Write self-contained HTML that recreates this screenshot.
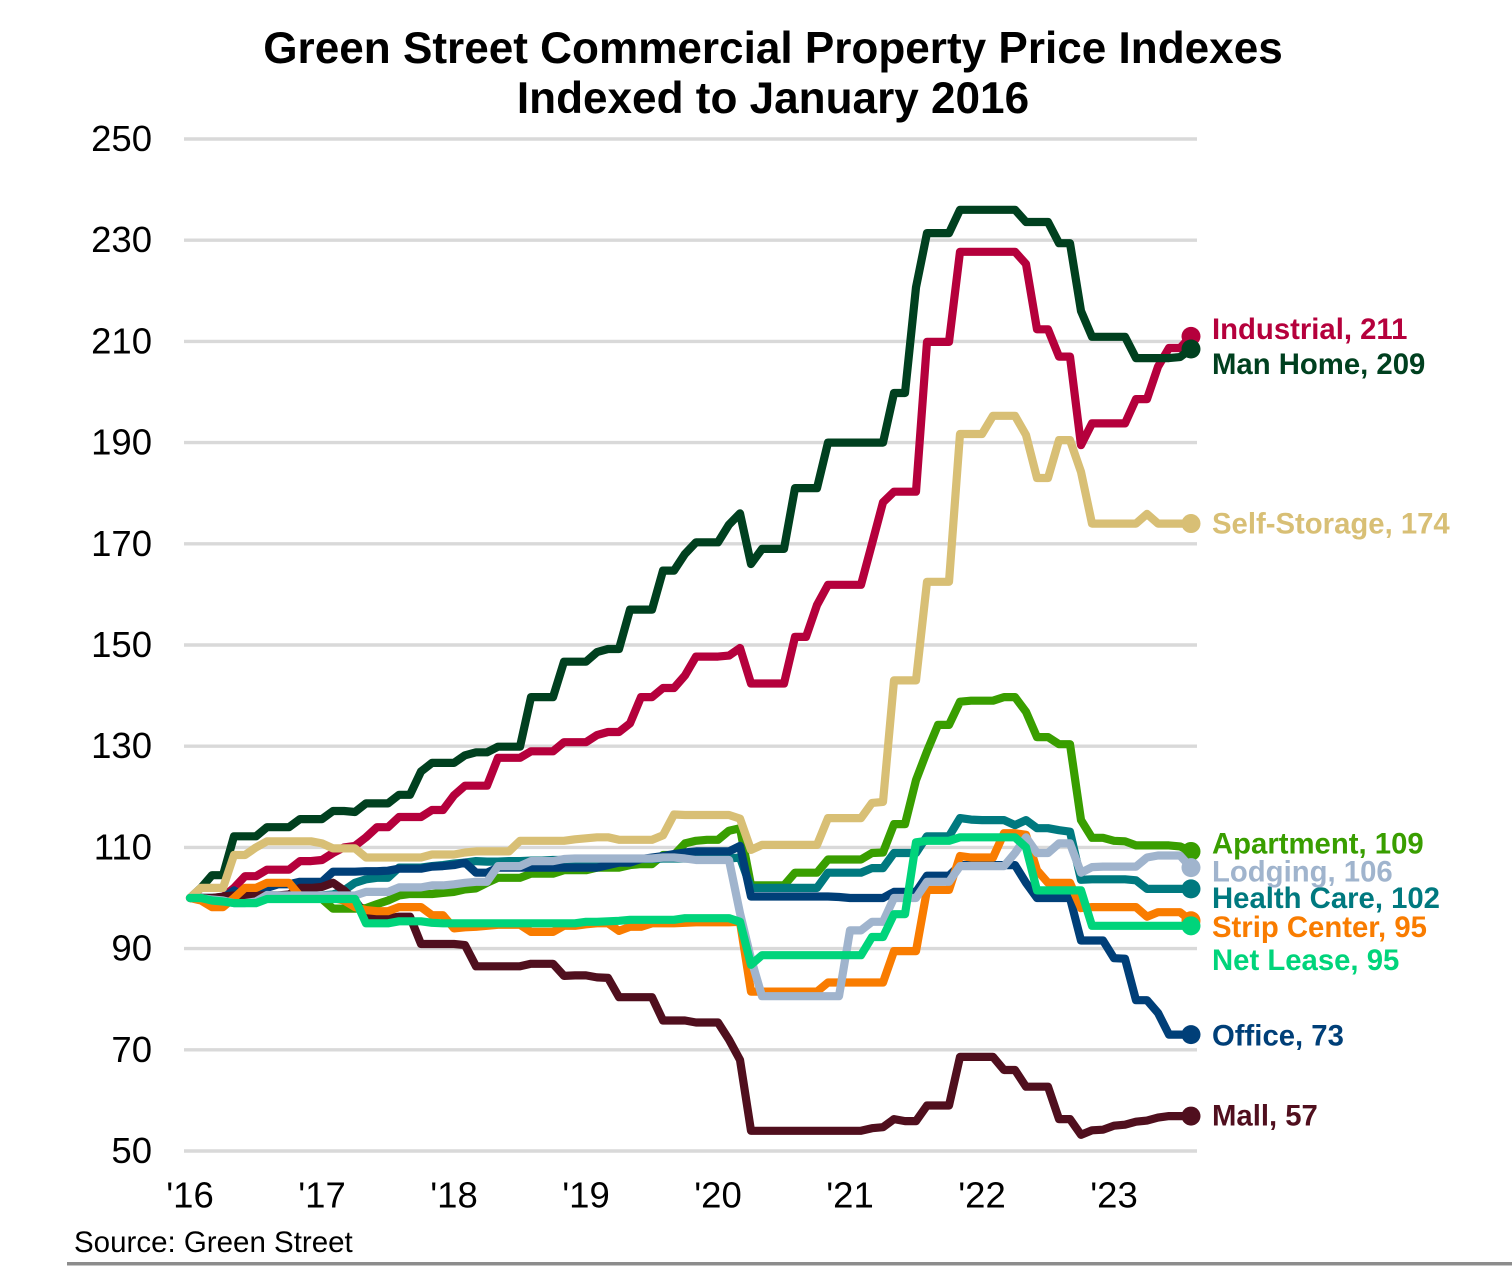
<!DOCTYPE html>
<html lang="en">
<head>
<meta charset="utf-8">
<title>Green Street Commercial Property Price Indexes</title>
<style>
html,body{margin:0;padding:0;background:#fff;width:1512px;height:1270px;overflow:hidden}
svg{display:block;font-family:"Liberation Sans",Arial,sans-serif}
</style>
</head>
<body>
<svg id="chart" xmlns="http://www.w3.org/2000/svg" width="1512" height="1270" viewBox="0 0 1512 1270">
  <g font-weight="700" font-size="44.1" text-anchor="middle" fill="#000">
    <text x="773" y="63">Green Street Commercial Property Price Indexes</text>
    <text x="773" y="113">Indexed to January 2016</text>
  </g>
  <g id="grid"></g>
  <g id="yTicks"></g>
  <g id="xTicks"></g>
  <g id="series"></g>
  <g id="labels"></g>
  <text x="74" y="1252" font-size="29.5" fill="#000">Source: Green Street</text>
  <rect x="67" y="1262" width="1445" height="3.5" fill="#8c8c8c"></rect>
</svg>
<script>
const yTickValues = [50,70,90,110,130,150,170,190,210,230,250];
const xTickLabels = ["'16","'17","'18","'19","'20","'21","'22","'23"];
const monthsPerYear = 12;

const industrial = [100,100,100,100.2,102,104.3,104.3,105.6,105.6,105.6,107.3,107.3,
107.5,108.9,110,110.3,112,114,114,116,116,116,117.4,117.4,
120.3,122.2,122.2,122.2,127.7,127.7,127.7,129,129,129,130.8,130.8,
130.8,132.2,132.8,132.8,134.5,139.7,139.7,141.5,141.5,144,147.7,147.7,
147.7,147.9,149.4,142.4,142.4,142.4,142.4,151.6,151.6,157.9,161.9,161.9,
161.9,161.9,170,178.2,180.3,180.3,180.3,209.9,209.9,209.9,227.7,227.7,
227.7,227.7,227.7,227.7,225.3,212.4,212.4,207,207,189.5,193.8,193.8,
193.8,193.8,198.6,198.6,205,208.7,208.7,211];

const manHome = [100,102,104.5,104.5,112.2,112.2,112.2,114,114,114,115.6,115.6,
115.6,117.2,117.2,117,118.7,118.7,118.7,120.4,120.4,125,126.7,126.7,
126.7,128.2,128.8,128.8,129.9,129.9,129.9,139.7,139.7,139.7,146.7,146.7,
146.7,148.6,149.2,149.2,157,157,157,164.7,164.7,168,170.3,170.3,
170.3,173.8,176,166,169,169,169,181,181,181,190,190,
190,190,190,190,199.8,199.8,220.7,231.4,231.4,231.4,236,236,
236,236,236,236,233.6,233.6,233.6,229.4,229.4,216,210.9,210.9,
210.9,210.9,206.7,206.7,206.7,206.7,206.9,208.5];

const selfStorage = [100,102,102,102,108.5,108.5,110,111.2,111.2,111.2,111.2,111.2,
110.8,109.8,109.8,109.8,108,108,108,108,108,108,108.6,108.6,
108.6,109,109.2,109.2,109.2,109.2,111.3,111.3,111.3,111.3,111.3,111.6,
111.8,112,112,111.5,111.5,111.5,111.5,112.4,116.5,116.4,116.4,116.4,
116.4,116.4,115.7,109.5,110.5,110.5,110.5,110.5,110.5,110.5,115.8,115.8,
115.8,115.8,118.8,119,143,143,143,162.5,162.5,162.5,191.7,191.7,
191.7,195.3,195.3,195.3,191.5,183,183,190.5,190.5,184.2,174,174,
174,174,174,175.9,174,174,174,174];

const apartment = [100,100,99.5,99.3,99.5,100.5,100.5,100.5,100.5,100.3,100,100,
99.8,97.9,97.9,97.9,98,98.8,99.5,100.5,100.8,100.8,100.8,101,
101.2,101.7,101.9,103,104,104,104,104.8,104.8,104.8,105.5,105.5,
105.5,106,106,106,106.5,106.7,106.7,108.5,108.5,110.8,111.3,111.5,
111.5,113.3,113.8,102.5,102.5,102.5,102.5,105,105,105,107.6,107.6,
107.6,107.6,108.9,109,114.6,114.6,123.3,129,134.2,134.2,138.8,139,
139,139,139.7,139.7,136.8,131.8,131.8,130.4,130.4,115.4,111.9,111.9,
111.3,111.2,110.4,110.4,110.4,110.4,110.2,109.2];

const lodging = [100,100,99.7,99.5,99,99,99.3,100.6,100.5,100.5,100.5,100.5,
100.5,100.5,100.5,100.5,101.2,101.2,101.2,102.1,102.1,102.1,102.5,102.5,
102.7,103,103.2,103.2,106.3,106.3,106.3,107.3,107.3,107.3,107.7,107.8,
107.8,107.8,107.8,107.8,107.8,107.8,107.8,108,108,107.8,107.5,107.5,
107.5,107.5,97,88,80.6,80.6,80.6,80.6,80.6,80.6,80.6,80.6,
93.6,93.6,95.3,95.3,100,100,100,103.2,103.2,103.2,106.3,106.3,
106.3,106.3,106.3,108.9,112,108.9,108.9,110.8,110.8,105,106.1,106.2,
106.2,106.2,106.2,108,108.4,108.4,108.4,106];

const healthCare = [100,100,100,100,100,100,100,100.3,100.3,100.3,100.3,100.3,
100.5,100.7,101.5,103,103.7,104,104,106,106,106,106.3,106.5,
106.8,107,107.3,107.2,107.2,107.3,107.3,107.4,107.4,107.5,107.5,107.5,
107.5,107.6,107.6,107.7,107.7,107.7,107.7,107.8,107.8,107.8,107.8,107.8,
107.8,107.8,108,102,102,102,102,102,102,102,105,105,
105,105,105.9,105.9,108.9,108.9,108.9,112.2,112.2,112.2,115.8,115.5,
115.4,115.4,115.4,114.4,115.4,113.8,113.8,113.4,113.1,103.6,103.7,103.7,
103.7,103.7,103.5,101.8,101.8,101.8,101.8,101.8];

const stripCenter = [100,99.5,98.2,98.2,100,102,102,103,103,103,100.4,100.2,
100,100,99.5,98.2,97.6,97.4,97.4,98.2,98.2,98.2,96.6,96.6,
94,94.2,94.3,94.5,94.7,94.7,94.7,93.3,93.3,93.3,94.5,94.5,
94.8,95,95,93.5,94.3,94.3,95,95,95,95.1,95.2,95.2,
95.2,95.2,95.3,81.5,81.5,81.5,81.5,81.5,81.5,81.5,83.3,83.3,
83.3,83.3,83.3,83.3,89.5,89.5,89.5,101.6,101.6,101.6,108.3,108,
108,108,112.8,112.8,112.5,105.5,103,103,103,98,98.2,98.2,
98.2,98.2,98.2,96.3,97.2,97.2,97.2,95.5];

const netLease = [100,100,99.5,99.3,99,99,99,99.8,99.8,99.8,99.8,99.8,
99.8,99.8,99.8,99.8,95,95,95,95.4,95.4,95.4,95.1,95,
95,95,95,95,95,95,95,95,95,95,95,95,
95.3,95.3,95.4,95.5,95.7,95.7,95.7,95.7,95.7,96,96,96,
96,96,95.3,86.8,88.7,88.7,88.7,88.7,88.7,88.7,88.7,88.7,
88.7,88.7,92.3,92.3,96.8,96.8,111,111.3,111.3,111.3,112,112,
112,112,112,112,110,101.5,101.5,101.5,101.5,101.5,94.5,94.5,
94.5,94.5,94.5,94.5,94.5,94.5,94.5,94.5];

const office = [100,100,100,100,101.5,100.2,100.5,102,102.7,102.7,103.2,103.2,
103.2,105.2,105.2,105.2,105.3,105.3,105.4,105.8,105.8,105.8,106.2,106.3,
106.5,107,105,105,106,106,106,106,106,106,106,106,
106,106,106.5,107,107,107.7,108,108.3,108.7,109,109.2,109.2,
109.2,109.2,110.3,100.3,100.3,100.3,100.3,100.3,100.3,100.3,100.3,100.2,
100,100,100,100,101.2,101.2,101.2,104.4,104.4,104.4,106.5,106.5,
106.5,106.5,106.5,106.5,103,100,100,100,100,91.6,91.6,91.6,
88.1,88,79.8,79.8,77.3,73,73,73];

const mall = [100,100,100,100.3,100.5,100.5,100.5,100.5,100.5,100.7,102,102,
102.2,103,101.5,99.5,96.6,96.2,96,96.3,96.3,90.9,90.9,90.9,
90.9,90.7,86.5,86.5,86.5,86.5,86.5,87,87,87,84.6,84.7,
84.7,84.3,84.2,80.4,80.4,80.4,80.4,75.8,75.8,75.8,75.4,75.4,
75.4,72,68,54,54,54,54,54,54,54,54,54,
54,54,54.5,54.7,56.3,55.9,55.9,59,59,59,68.6,68.6,
68.6,68.6,66,66,62.7,62.7,62.7,56.3,56.3,53.2,54.1,54.2,
55,55.2,55.8,56,56.6,56.9,56.9,56.9];

const seriesNames = ["Industrial","Man Home","Apartment","Health Care","Office","Mall","Strip Center","Self-Storage","Lodging","Net Lease"];
const seriesValues = [industrial,manHome,apartment,healthCare,office,mall,stripCenter,selfStorage,lodging,netLease];
const seriesColors = ["#b5003c","#00401f","#399e00","#00797f","#003f78","#500f1e","#f97c00","#d8bf75","#a0b4cd","#00d47b"];
const printedValues = [211,209,109,102,73,57,95,174,106,95];
const labelNudges = [2.5,25,2,19,11,9.5,16,10,14,44];

const NS = "http://www.w3.org/2000/svg";
const xScale = i => 190 + 11 * i;
const yScale = v => 1151 - (v - 50) * 5.06;
const make = (tag, attrs, parent) => {
  const el = document.createElementNS(NS, tag);
  for (const k in attrs) el.setAttribute(k, attrs[k]);
  parent.appendChild(el);
  return el;
};
const slug = s => s.toLowerCase().replace(/[^a-z0-9]+/g, "-");

const grid = document.getElementById("grid");
const yTicks = document.getElementById("yTicks");
yTickValues.forEach(v => {
  const line = make("line", {x1:184, x2:1197, y1:yScale(v), y2:yScale(v), stroke:"#d9d9d9", "stroke-width":3.4}, grid);
  
  
  const t = make("text", {x:152, y:yScale(v) + 12, "font-size":36.5, "text-anchor":"end", fill:"#000"}, yTicks);
  t.textContent = v;
  
  
});

const xTicks = document.getElementById("xTicks");
xTickLabels.forEach((label, i) => {
  const t = make("text", {x:xScale(i * monthsPerYear), y:1207.5, "font-size":36.5, "text-anchor":"middle", fill:"#000"}, xTicks);
  t.textContent = label;
  
  
});

const seriesGroup = document.getElementById("series");
const labelGroup = document.getElementById("labels");
seriesValues.forEach((vals, s) => {
  const color = seriesColors[s];
  const key = slug(seriesNames[s]);
  const pts = vals.map((v, i) => xScale(i).toFixed(1) + "," + yScale(v).toFixed(1)).join(" ");
  const line = make("polyline", {points:pts, fill:"none", stroke:color, "stroke-width":8.2, "stroke-linejoin":"round", "stroke-linecap":"round"}, seriesGroup);
  
  
  const last = vals.length - 1;
  const dot = make("circle", {cx:xScale(last), cy:yScale(vals[last]), r:9.5, fill:color}, seriesGroup);
  
  
  const t = make("text", {x:1212, y:yScale(vals[last]) + labelNudges[s], "font-size":29.3, "font-weight":700, fill:color}, labelGroup);
  t.textContent = seriesNames[s] + ", " + printedValues[s];
  
  
});
</script>
</body>
</html>
